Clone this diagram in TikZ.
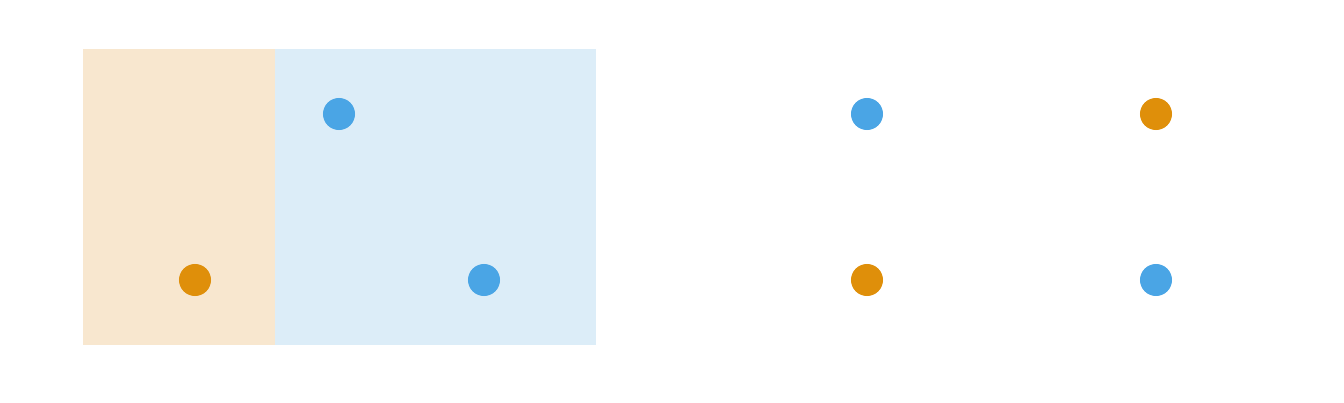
\documentclass[tikz,border=0pt]{standalone}
\usepackage{xcolor}
\usetikzlibrary{positioning}
\definecolor{dotorange}{RGB}{223,143,10}
\definecolor{dotblue}{RGB}{74,165,229}
\definecolor{softorange}{RGB}{248,231,207}
\definecolor{softblue}{RGB}{220,237,248}
\begin{document}
\begin{tikzpicture}[x=0.01cm,y=-0.01cm,
  odot/.style={circle, fill=dotorange, minimum size=0.32cm, inner sep=0pt},
  bdot/.style={circle, fill=dotblue, minimum size=0.32cm, inner sep=0pt}]
  \useasboundingbox (0,0) rectangle (1344,403);

  % ---- shaded regions ----
  \fill[softorange] (83,49) rectangle (275,345);
  \fill[softblue] (275,49) rectangle (596,345);

  % ---- points inside the box ----
  \node[bdot] (B1) at (339,114) {};
  \node[odot] (O1) at (195,280) {};
  \node[bdot] (B2) at (484,280) {};

  % ---- points on the right ----
  \node[bdot] (B3) at (867,114) {};
  \node[odot] (O2) at (867,280) {};
  \node[odot] (O3) at (1156,114) {};
  \node[bdot] (B4) at (1156,280) {};
\end{tikzpicture}
\end{document}
